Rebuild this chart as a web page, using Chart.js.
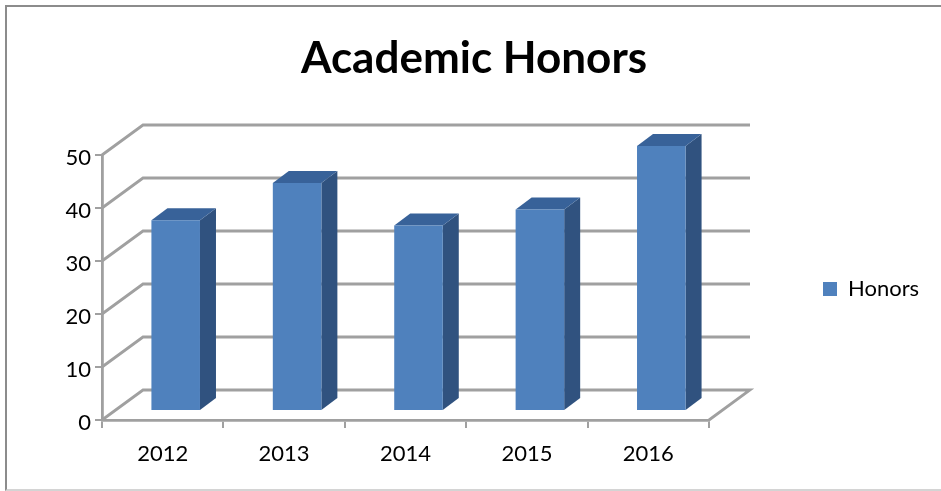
<!DOCTYPE html>
<html><head><meta charset="utf-8">
<style>
html,body{margin:0;padding:0;background:#fff;overflow:hidden}
#frame{position:absolute;left:5px;top:5px;width:936px;height:486px;border-left:2px solid #8c8c8c;border-top:2px solid #8c8c8c;border-bottom:2px solid #d4d4d4;box-sizing:border-box}
canvas{position:absolute;left:0;top:0}
</style>
<script src="https://cdn.jsdelivr.net/npm/chart.js@4/dist/chart.umd.min.js"></script>
</head><body>
<div id="frame"></div>
<canvas id="c" width="941" height="491"></canvas>
<script>
const categories = ["2012","2013","2014","2015","2016"];
const honors = [36,43,35,38,50];
const seriesName = "Honors";
const chartTitle = "Academic Honors";
const yTicks = [0,10,20,30,40,50];

const FONT = "Lato, Carlito, Calibri, sans-serif";
const GRID = "#a0a0a0";
const FACE = "#4f81bd", SIDE = "#30527f", TOP = "#386299";
const WALL = {dx:41, dy:-30};      // floor depth
const BAR_SHIFT = {dx:13, dy:-9};  // bars stand mid-floor
const BAR_DEPTH = {dx:16, dy:-12};
const TARGET = {left:102, top:155, right:709, bottom:420};

const threeD = {
  id:"threeD",
  afterLayout(chart){
    const legend = chart.legend, w = legend.right - legend.left, h = legend.bottom - legend.top;
    legend.left = 813; legend.right = legend.left + w;
    legend.top = 289 - h/2; legend.bottom = legend.top + h;
    chart.titleBlock.left = 0; chart.titleBlock.right = 948;
    const s = chart.scales.y;
    if (!s._shifted) {
      const orig = s.drawLabels;
      s.drawLabels = function(area){
        const c = this.ctx; c.save(); c.translate(0,3); orig.call(this,area); c.restore();
      };
      s._shifted = true;
    }
  },
  beforeDatasetsDraw(chart){
    const {ctx, chartArea:a, scales:{y}} = chart;
    ctx.save();
    ctx.strokeStyle = GRID; ctx.lineWidth = 2.8; ctx.lineJoin = "miter";
    yTicks.forEach(v=>{
      const py = y.getPixelForValue(v);
      ctx.beginPath();
      ctx.moveTo(a.left, py);
      ctx.lineTo(a.left+WALL.dx, py+WALL.dy);
      ctx.lineTo(a.right+WALL.dx, py+WALL.dy);
      if (v===0) ctx.lineTo(a.right, py);
      ctx.stroke();
    });
    ctx.restore();
  },
  beforeDatasetDraw(chart,args){
    const ctx = chart.ctx, d = BAR_DEPTH;
    ctx.save();
    ctx.translate(BAR_SHIFT.dx, BAR_SHIFT.dy);
    chart.getDatasetMeta(args.index).data.forEach(b=>{
      const l=b.x-b.width/2, r=b.x+b.width/2, t=b.y, bt=b.base;
      ctx.fillStyle = SIDE;
      ctx.beginPath();
      ctx.moveTo(r,t); ctx.lineTo(r+d.dx,t+d.dy); ctx.lineTo(r+d.dx,bt+d.dy); ctx.lineTo(r,bt);
      ctx.closePath(); ctx.fill();
      ctx.fillStyle = TOP;
      ctx.beginPath();
      ctx.moveTo(l,t); ctx.lineTo(l+d.dx,t+d.dy); ctx.lineTo(r+d.dx,t+d.dy); ctx.lineTo(r,t);
      ctx.closePath(); ctx.fill();
    });
  },
  afterDatasetDraw(chart){ chart.ctx.restore(); }
};

const chart = new Chart(document.getElementById("c"),{
  type:"bar",
  data:{labels:categories,datasets:[{label:seriesName,data:honors,backgroundColor:FACE,
    borderWidth:0,categoryPercentage:1,barPercentage:0.4}]},
  plugins:[threeD],
  options:{
    responsive:false,animation:false,
    layout:{padding:{left:0,right:0,top:0,bottom:0}},
    plugins:{
      tooltip:{enabled:false},
      title:{display:true,text:chartTitle,color:"#000",
        font:{family:FONT,size:44,weight:"bold",lineHeight:1.2},
        padding:{top:32,bottom:155-32-52.8}},
      legend:{display:true,position:"right",
        labels:{boxWidth:14,boxHeight:14,padding:10,color:"#000",font:{family:FONT,size:22}}}
    },
    scales:{
      x:{grid:{drawOnChartArea:false,color:GRID,lineWidth:2,tickLength:8,offset:true},
        border:{color:GRID,width:2.8},
        ticks:{color:"#000",font:{family:FONT,size:22},padding:13,maxRotation:0},
        afterFit(s){s.height=491-TARGET.bottom;}},
      y:{min:0,max:50,grid:{drawOnChartArea:false,color:GRID,lineWidth:2,tickLength:7},
        border:{color:GRID,width:2.8},
        ticks:{stepSize:10,color:"#000",font:{family:FONT,size:22},padding:4},
        afterFit(s){s.width=TARGET.left;}}
    }
  }
});
chart.options.layout.padding.right = 941-TARGET.right-chart.legend.width;
chart.update();
</script>
</body></html>
